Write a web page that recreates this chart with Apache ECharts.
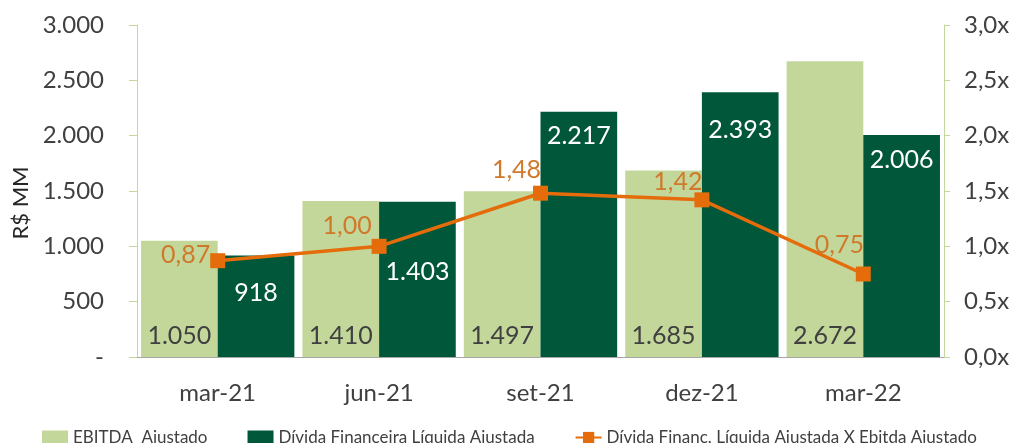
<!DOCTYPE html>
<html>
<head>
<meta charset="utf-8">
<script src="https://cdn.jsdelivr.net/npm/echarts@6/dist/echarts.min.js"></script>
<style>
    html, body { margin: 0; padding: 0; background: #fff; }
    #chart { width: 1017px; height: 443px; }
</style>
</head>
<body>
<div id="chart"></div>
<script>
    // dados do gráfico
    const categories = ['mar-21', 'jun-21', 'set-21', 'dez-21', 'mar-22'];
    const ebitda = [1050, 1410, 1497, 1685, 2672];
    const dividaLiquida = [918, 1403, 2217, 2393, 2006];
    const alavancagem = [0.87, 1.00, 1.48, 1.42, 0.75];

    const FONT = 'Lato';
    const fmtMil = v => {
        if (v === 0) return '-';
        return String(Math.round(v)).replace(/\B(?=(\d{3})+(?!\d))/g, '.');
    };

    // deslocamento dos rótulos (estilo)
    const dividaLabelOffset = [[0, 13], [0, 46], [0, 0], [0, 13], [0, 0]];
    const linhaLabelOffset = [[4, -6], [-32, 4], [-24, 1], [-24, 6], [-24, -5]];
    const linhaLabelPos = ['left', 'top', 'top', 'top', 'top'];

    const chart = echarts.init(document.getElementById('chart'));
    const option = {
        animation: false,
        textStyle: { fontFamily: FONT },
        grid: { left: 137, right: 73, top: 25, bottom: 86 },
        legend: {
            top: 424,
            left: 37,
            itemGap: 40,
            itemWidth: 26,
            itemHeight: 14,
            textStyle: { fontSize: 17, color: '#404040', fontFamily: FONT },
            data: [
                { name: 'EBITDA  Ajustado', icon: 'rect' },
                { name: 'Dívida Financeira Líquida Ajustada', icon: 'rect' },
                { name: 'Dívida Financ. Líquida Ajustada X Ebitda Ajustado' }
            ]
        },
        xAxis: {
            type: 'category',
            data: categories,
            axisLine: { lineStyle: { color: '#a6a6a6', width: 1 } },
            axisTick: { length: 10, lineStyle: { color: '#a6a6a6' } },
            axisLabel: { fontSize: 24, color: '#404040', margin: 24 }
        },
        yAxis: [
            {
                type: 'value',
                min: 0, max: 3000, interval: 500,
                name: 'R$ MM',
                nameLocation: 'middle',
                nameGap: 92,
                nameRotate: 90,
                nameTextStyle: { fontSize: 22, color: '#262626', fontFamily: FONT, padding: [0, 24, 0, 0] },
                axisLine: { show: true, lineStyle: { color: '#c4d79b' } },
                axisTick: { show: true, length: 8, lineStyle: { color: '#c4d79b' } },
                splitLine: { show: false },
                axisLabel: { fontSize: 24, color: '#404040', margin: 33, formatter: fmtMil }
            },
            {
                type: 'value',
                min: 0, max: 3, interval: 0.5,
                axisLine: { show: true, lineStyle: { color: '#c4d79b' } },
                axisTick: { show: true, length: 6, lineStyle: { color: '#c4d79b' } },
                splitLine: { show: false },
                axisLabel: {
                    fontSize: 24, color: '#404040', margin: 20,
                    formatter: v => v.toFixed(1).replace('.', ',') + 'x'
                }
            }
        ],
        series: [
            {
                name: 'EBITDA  Ajustado',
                type: 'bar',
                data: ebitda,
                barGap: '0%',
                barCategoryGap: '5%',
                itemStyle: { color: '#c4d79b' },
                label: {
                    show: true, position: 'insideBottom', distance: 9,
                    fontSize: 25, color: '#404040', formatter: p => fmtMil(p.value)
                }
            },
            {
                name: 'Dívida Financeira Líquida Ajustada',
                type: 'bar',
                data: dividaLiquida.map((v, i) => ({
                    value: v,
                    label: { offset: dividaLabelOffset[i] }
                })),
                barGap: '0%',
                barCategoryGap: '5%',
                itemStyle: { color: '#00573a' },
                label: {
                    show: true, position: 'insideTop', distance: 12,
                    fontSize: 25, color: '#ffffff', formatter: p => fmtMil(p.value)
                }
            },
            {
                name: 'Dívida Financ. Líquida Ajustada X Ebitda Ajustado',
                type: 'line',
                yAxisIndex: 1,
                data: alavancagem.map((v, i) => ({
                    value: v,
                    label: { position: linhaLabelPos[i], offset: linhaLabelOffset[i] }
                })),
                symbol: 'rect',
                symbolSize: 15,
                lineStyle: { color: '#e46c0a', width: 3.5 },
                itemStyle: { color: '#e46c0a' },
                label: {
                    show: true, fontSize: 25, color: '#d0792a', distance: 4,
                    formatter: p => p.value.toFixed(2).replace('.', ',')
                }
            }
        ]
    };
    chart.setOption(option);
</script>
</body>
</html>
